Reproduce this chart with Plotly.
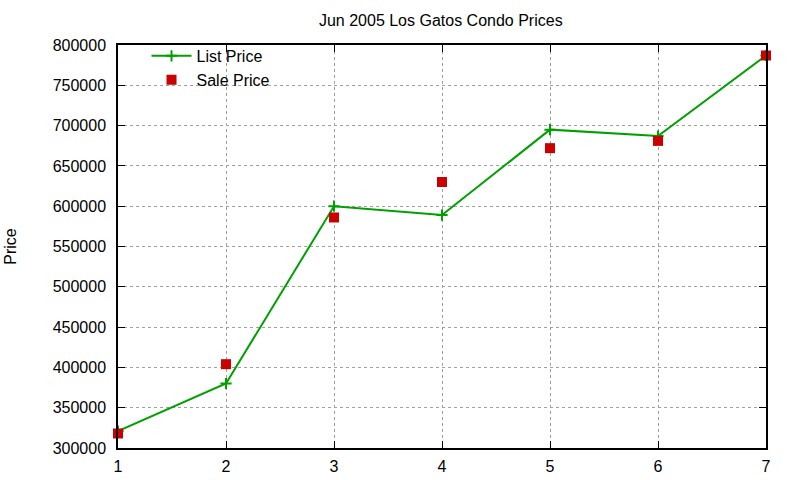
import plotly.graph_objects as go

# condo number, list and sale prices
condo = [1, 2, 3, 4, 5, 6, 7]
list_price = [321000, 380000, 600000, 589000, 695000, 687000, 787000]
sale_price = [318000, 404000, 586000, 630000, 672000, 681000, 787000]

y_ticks = [300000, 350000, 400000, 450000, 500000, 550000, 600000, 650000, 700000, 750000, 800000]

fig = go.Figure()

fig.add_trace(go.Scatter(
    x=condo, y=list_price, name="List Price",
    mode="lines+markers",
    line=dict(color="#00a000", width=2),
    marker=dict(symbol="cross-thin", size=8, color="#00a000",
                line=dict(color="#00a000", width=2)),
))
fig.add_trace(go.Scatter(
    x=condo, y=sale_price, name="Sale Price",
    mode="markers",
    marker=dict(symbol="square", size=10, color="#cc0000"),
    cliponaxis=False,
))

axis_common = dict(
    showline=True, linecolor="black", linewidth=1.5, mirror="ticks",
    ticks="inside", ticklen=7, tickcolor="black", tickwidth=1,
    showgrid=True, gridcolor="#a0a0a0", griddash="dot", gridwidth=1,
    zeroline=False,
    tickfont=dict(size=16, color="black"),
)

fig.update_xaxes(range=[1, 7], tickvals=condo, ticklabelstandoff=3, **axis_common)
fig.update_yaxes(range=[300000, 800000], tickvals=y_ticks,
                 ticktext=[str(v) for v in y_ticks], ticklabelstandoff=7,
                 title=dict(text="Price", font=dict(size=16, color="black"), standoff=32),
                 **axis_common)

fig.update_layout(
    width=800, height=480,
    margin=dict(l=118, r=34, t=45, b=32, autoexpand=False),
    paper_bgcolor="white", plot_bgcolor="white",
    font=dict(family="Liberation Sans, Arial, sans-serif", size=16, color="black"),
    title=dict(text="Jun 2005 Los Gatos Condo Prices", x=0.551, xanchor="center",
               y=0.958, yanchor="middle", font=dict(size=16)),
    legend=dict(x=0.044, y=1.015, xanchor="left", yanchor="top",
                bgcolor="rgba(0,0,0,0)", font=dict(size=16),
                tracegroupgap=0, itemwidth=40),
    showlegend=True,
)

fig.write_html("out.html", config={"displayModeBar": False},
               post_script="document.body.style.margin='0';")
